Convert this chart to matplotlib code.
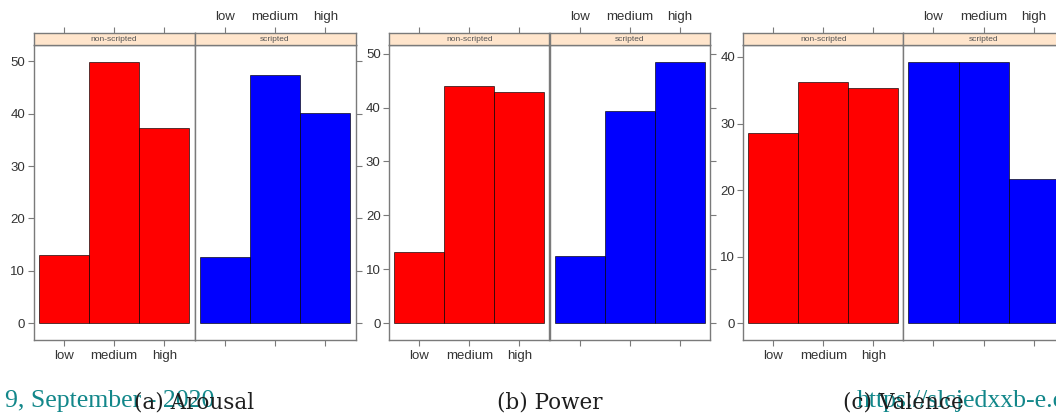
import numpy as np
import matplotlib.pyplot as plt
from matplotlib import ticker

# data (bar heights per level)
levels = ['low', 'medium', 'high']
groups = ['non-scripted', 'scripted']
captions = ['(a) Arousal', '(b) Power', '(c) Valence']

arousal_non = [13.0, 49.8, 37.3]
arousal_scr = [12.6, 47.4, 40.1]
power_non = [13.3, 44.0, 42.8]
power_scr = [12.4, 39.3, 48.4]
valence_non = [28.6, 36.3, 35.3]
valence_scr = [39.2, 39.2, 21.6]

panels = [
    (arousal_non, arousal_scr),
    (power_non, power_scr),
    (valence_non, valence_scr),
]

# overlaid watermark-ish text from the page
footer_left = '9, September - 2020'
footer_right = 'https://slcjedxxb-e.cnki.net'

W, H = 1056, 413
fig = plt.figure(figsize=(W / 100, H / 100), dpi=100)

# panel edges in pixels: left, divider, right
panel_x = [(33.5, 194.5, 355.5), (389, 549.5, 710), (743.3, 903.3, 1064)]
strip_top, strip_bot, box_bot = 32.5, 44.5, 340

box_col = '#7a7a7a'
txt_col = '#333333'
bar_cols = ['#ff0000', '#0000ff']


def px_rect(x0, y0, x1, y1):
    return [x0 / W, 1 - y1 / H, (x1 - x0) / W, (y1 - y0) / H]


def style_spines(ax):
    for s in ax.spines.values():
        s.set_color(box_col)
        s.set_linewidth(1.0)


x = np.arange(1, len(levels) + 1)

for p, (vals_pair, xs) in enumerate(zip(panels, panel_x)):
    vmax = max(max(v) for v in vals_pair)
    ylo, yhi = -0.064 * vmax, 1.068 * vmax
    for j, vals in enumerate(vals_pair):
        ax = fig.add_axes(px_rect(xs[j], strip_bot, xs[j + 1], box_bot))
        ax.bar(x, vals, width=1.0, color=bar_cols[j],
               edgecolor=(0, 0, 0, 0.65), linewidth=0.7)
        ax.set_xlim(0.4, 3.6)
        ax.set_ylim(ylo, yhi)
        style_spines(ax)

        ax.set_xticks(x)
        ax.set_xticklabels(levels if j == 0 else [])
        ax.yaxis.set_major_locator(ticker.MultipleLocator(10))
        if j == 0:
            ax.yaxis.set_ticks_position('left')
        else:
            ax.yaxis.set_ticks_position('right')
            ax.tick_params(axis='y', labelright=False)
        ax.tick_params(direction='out', length=4, width=0.8, color=box_col,
                       labelcolor=txt_col, labelsize=9.5)
        ax.tick_params(axis='x', pad=3)
        ax.tick_params(axis='y', pad=2)
        for lab in ax.get_xticklabels() + ax.get_yticklabels():
            lab.set_family('Liberation Sans')

        # strip on top with the group name
        sax = fig.add_axes(px_rect(xs[j], strip_top, xs[j + 1], strip_bot))
        sax.set_facecolor('#ffe5cc')
        sax.set_xlim(0.4, 3.6)
        sax.set_yticks([])
        sax.xaxis.set_ticks_position('top')
        sax.set_xticks(x)
        sax.set_xticklabels(levels if j == 1 else [])
        sax.tick_params(direction='out', length=4, width=0.8, color=box_col,
                        labelcolor=txt_col, labelsize=9.5, pad=3)
        for lab in sax.get_xticklabels():
            lab.set_family('Liberation Sans')
        style_spines(sax)
        sax.text(0.5, 0.45, groups[j], transform=sax.transAxes, ha='center',
                 va='center', fontsize=6, color='#555555', family='Liberation Sans')

    cx = (xs[0] + xs[2]) / 2
    if p == 2:
        cx = 903
    fig.text(cx / W, 1 - 408 / H, captions[p], ha='center', va='baseline',
             family='DejaVu Serif', fontsize=15.5, color='#1e1e1e', zorder=3)

# page footer text that sits over the captions in the reference
fig.text(5 / W, 1 - 407 / H, footer_left, ha='left', va='baseline',
         family='Liberation Serif', fontsize=18.5, color='#12878a', zorder=2)
fig.text(857 / W, 1 - 407 / H, footer_right, ha='left', va='baseline',
         family='Liberation Serif', fontsize=18.5, color='#12878a', zorder=2)

fig.savefig('out.png', dpi=100)
